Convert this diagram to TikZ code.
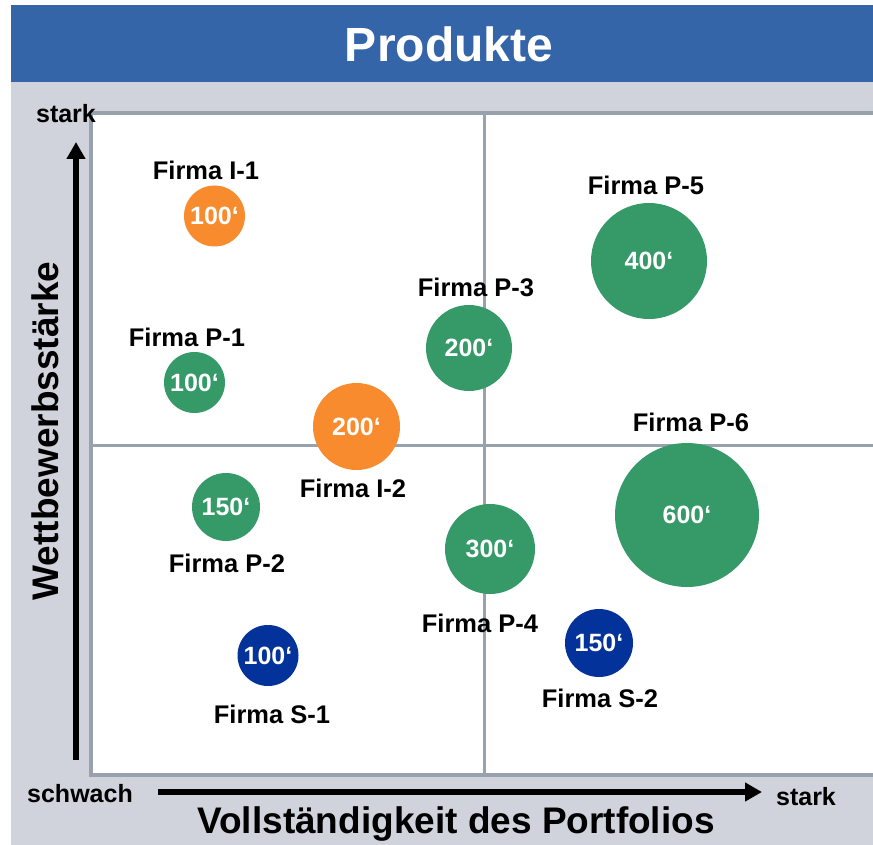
\documentclass[tikz,border=0pt]{standalone}
\usepackage{fontspec}
\setmainfont{Liberation Sans}
\usetikzlibrary{arrows.meta}
\definecolor{titleblue}{HTML}{3465A9}
\definecolor{bggray}{HTML}{D0D3DB}
\definecolor{gridgray}{HTML}{98A1AE}
\definecolor{orangeb}{HTML}{F78B2E}
\definecolor{greenb}{HTML}{359A68}
\definecolor{blueb}{HTML}{03329B}
\begin{document}
\begin{tikzpicture}[x=1pt,y=-1pt,
  bubble/.style={circle,inner sep=0pt,text=white,font=\fontsize{25}{30}\selectfont\bfseries},
  firm/.style={inner sep=0pt,font=\fontsize{25.5}{30}\selectfont\bfseries},
  axislbl/.style={inner sep=0pt,font=\fontsize{25}{30}\selectfont\bfseries},
  axistitle/.style={inner sep=0pt,font=\fontsize{37}{44}\selectfont\bfseries},
  axisarrow/.style={line width=6pt,-{Triangle[length=17pt,width=18pt]}},
  gridline/.style={gridgray,line width=3pt}]
\useasboundingbox (0,0) rectangle (873,845);
\fill[white] (0,0) rectangle (873,845);
\fill[titleblue] (11,5) rectangle (873,82);
\fill[bggray] (11,82) rectangle (873,845);
\node[anchor=base,inner sep=0pt,text=white,font=\fontsize{48}{56}\selectfont\bfseries] (title) at (449,62) {Produkte};
% plot area
\draw[gridgray,line width=4pt,fill=white] (90.5,113) rectangle (900,775);
\coordinate (vt) at (484,113);
\coordinate (vb) at (484,775);
\coordinate (hl) at (90.5,445);
\coordinate (hr) at (873,445);
\draw[gridline] (vt) -- (vb);
\draw[gridline] (hl) -- (hr);
% axes
\coordinate (ya0) at (76,760);
\coordinate (ya1) at (76,142);
\coordinate (xa0) at (158,792);
\coordinate (xa1) at (762,792);
\draw[axisarrow] (ya0) -- (ya1);
\draw[axisarrow] (xa0) -- (xa1);
\node[axislbl,anchor=base] (ystark) at (66,123) {stark};
\node[axislbl,anchor=base] (schwach) at (80,802) {schwach};
\node[axislbl,anchor=base] (xstark) at (806,805) {stark};
\node[axistitle,anchor=base,rotate=90] (ytitle) at (58,431) {Wettbewerbsstärke};
\node[axistitle,anchor=base] (xtitle) at (456,833) {Vollständigkeit des Portfolios};
% bubbles
\node[bubble,fill=orangeb,minimum size=61pt] (i1) at (214.5,216) {100‘};
\node[bubble,fill=greenb,minimum size=61pt] (p1) at (194.5,382.5) {100‘};
\node[bubble,fill=orangeb,minimum size=87pt] (i2) at (356.5,426.5) {200‘};
\node[bubble,fill=greenb,minimum size=86pt] (p3) at (469,348) {200‘};
\node[bubble,fill=greenb,minimum size=116pt] (p5) at (649,261) {400‘};
\node[bubble,fill=greenb,minimum size=144pt] (p6) at (687,515) {600‘};
\node[bubble,fill=greenb,minimum size=68pt] (p2) at (226,507) {150‘};
\node[bubble,fill=greenb,minimum size=90pt] (p4) at (490,549) {300‘};
\node[bubble,fill=blueb,minimum size=61pt] (s1) at (268,655.5) {100‘};
\node[bubble,fill=blueb,minimum size=68pt] (s2) at (599,643) {150‘};
% labels
\node[firm] (li1) at (206,170) {Firma I-1};
\node[firm] (lp1) at (187,337) {Firma P-1};
\node[firm] (li2) at (353,488) {Firma I-2};
\node[firm] (lp3) at (476,287) {Firma P-3};
\node[firm] (lp5) at (646,185) {Firma P-5};
\node[firm] (lp6) at (691,422) {Firma P-6};
\node[firm] (lp2) at (227,563) {Firma P-2};
\node[firm] (lp4) at (480,623) {Firma P-4};
\node[firm] (ls1) at (272,714) {Firma S-1};
\node[firm] (ls2) at (600,698) {Firma S-2};
\end{tikzpicture}
\end{document}
